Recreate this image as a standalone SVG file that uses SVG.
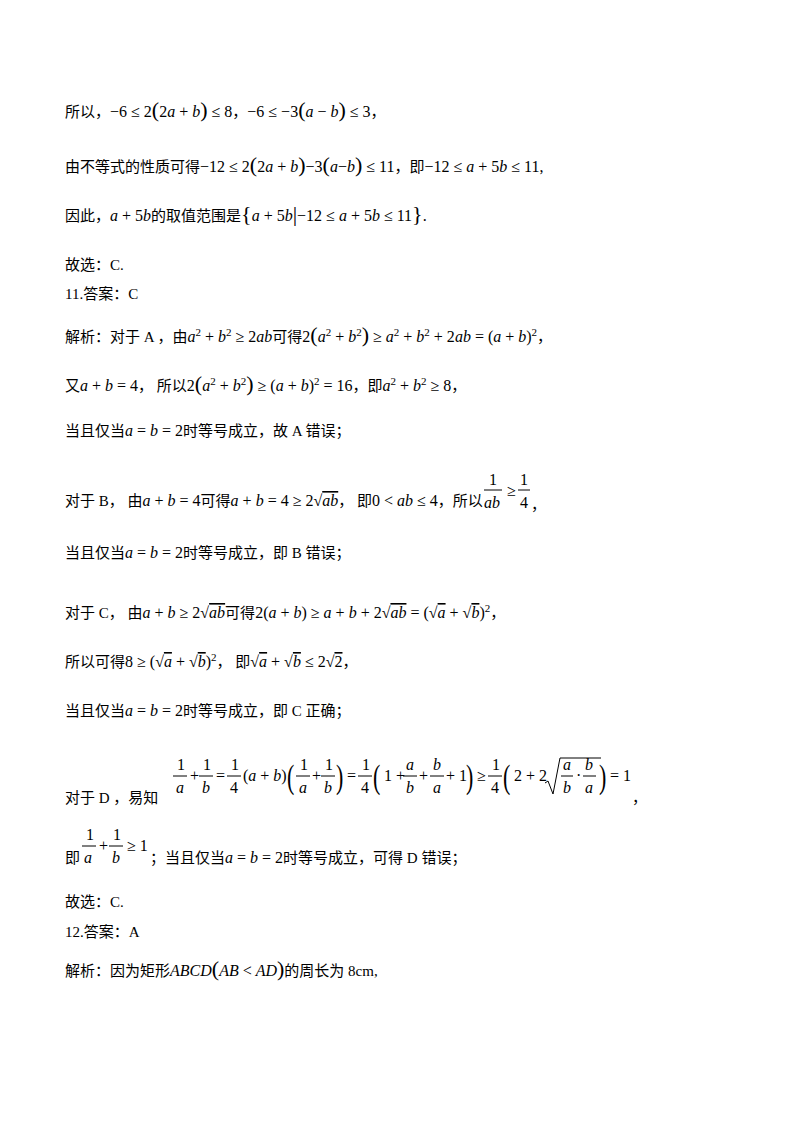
<svg xmlns="http://www.w3.org/2000/svg" width="800" height="1132" viewBox="0 0 800 1132">
<style>
text{font-family:"Liberation Serif","Noto Sans CJK SC",serif;font-size:15px;fill:#000}
.m{font-size:16px}
.i{font-style:italic;font-size:16px}
.n{font-size:16px}
.s{font-size:11px}
.big{font-size:22px}
.o{text-decoration:overline}
line,path{stroke:#000;stroke-width:1;fill:none}
</style>
<rect width="800" height="1132" fill="#fff"/>
<g id="l1">
<text x="65" y="117">所以，<tspan class="n">−6 ≤ 2</tspan><tspan class="big">(</tspan><tspan class="n">2</tspan><tspan class="i">a</tspan><tspan class="n"> + </tspan><tspan class="i">b</tspan><tspan class="big">)</tspan><tspan class="n"> ≤ 8</tspan>，<tspan class="n">−6 ≤ −3</tspan><tspan class="big">(</tspan><tspan class="i">a</tspan><tspan class="n"> − </tspan><tspan class="i">b</tspan><tspan class="big">)</tspan><tspan class="n"> ≤ 3</tspan>，</text>
</g>
<g id="l2">
<text x="65" y="172">由不等式的性质可得<tspan class="n">−12 ≤ 2</tspan><tspan class="big">(</tspan><tspan class="n">2</tspan><tspan class="i">a</tspan><tspan class="n"> + </tspan><tspan class="i">b</tspan><tspan class="big">)</tspan><tspan class="n">−3</tspan><tspan class="big">(</tspan><tspan class="i">a</tspan><tspan class="n">−</tspan><tspan class="i">b</tspan><tspan class="big">)</tspan><tspan class="n"> ≤ 11</tspan>，即<tspan class="n">−12 ≤ </tspan><tspan class="i">a</tspan><tspan class="n"> + 5</tspan><tspan class="i">b</tspan><tspan class="n"> ≤ 11,</tspan></text>
</g>
<g id="l3">
<text x="65" y="221">因此，<tspan class="i">a</tspan><tspan class="n"> + 5</tspan><tspan class="i">b</tspan>的取值范围是<tspan class="big">{</tspan><tspan class="i">a</tspan><tspan class="n"> + 5</tspan><tspan class="i">b</tspan><tspan class="big">|</tspan><tspan class="n">−12 ≤ </tspan><tspan class="i">a</tspan><tspan class="n"> + 5</tspan><tspan class="i">b</tspan><tspan class="n"> ≤ 11</tspan><tspan class="big">}</tspan><tspan class="n">.</tspan></text>
</g>
<g id="l4"><text x="65" y="270">故选：C.</text></g>
<g id="l5"><text x="65" y="299">11.答案：C</text></g>
<g id="l6">
<text x="65" y="342">解析：对于 A ，由<tspan class="i">a</tspan><tspan class="s" dy="-6">2</tspan><tspan class="n" dy="6"> + </tspan><tspan class="i">b</tspan><tspan class="s" dy="-6">2</tspan><tspan class="n" dy="6"> ≥ 2</tspan><tspan class="i">ab</tspan>可得<tspan class="n">2</tspan><tspan class="big">(</tspan><tspan class="i">a</tspan><tspan class="s" dy="-6">2</tspan><tspan class="n" dy="6"> + </tspan><tspan class="i">b</tspan><tspan class="s" dy="-6">2</tspan><tspan class="big" dy="6">)</tspan><tspan class="n"> ≥ </tspan><tspan class="i">a</tspan><tspan class="s" dy="-6">2</tspan><tspan class="n" dy="6"> + </tspan><tspan class="i">b</tspan><tspan class="s" dy="-6">2</tspan><tspan class="n" dy="6"> + 2</tspan><tspan class="i">ab</tspan><tspan class="n"> = (</tspan><tspan class="i">a</tspan><tspan class="n"> + </tspan><tspan class="i">b</tspan><tspan class="n">)</tspan><tspan class="s" dy="-6">2</tspan><tspan dy="6">，</tspan></text>
</g>
<g id="l7">
<text x="65" y="391">又<tspan class="i">a</tspan><tspan class="n"> + </tspan><tspan class="i">b</tspan><tspan class="n"> = 4</tspan>，  所以<tspan class="n">2</tspan><tspan class="big">(</tspan><tspan class="i">a</tspan><tspan class="s" dy="-6">2</tspan><tspan class="n" dy="6"> + </tspan><tspan class="i">b</tspan><tspan class="s" dy="-6">2</tspan><tspan class="big" dy="6">)</tspan><tspan class="n"> ≥ (</tspan><tspan class="i">a</tspan><tspan class="n"> + </tspan><tspan class="i">b</tspan><tspan class="n">)</tspan><tspan class="s" dy="-6">2</tspan><tspan class="n" dy="6"> = 16</tspan>，即<tspan class="i">a</tspan><tspan class="s" dy="-6">2</tspan><tspan class="n" dy="6"> + </tspan><tspan class="i">b</tspan><tspan class="s" dy="-6">2</tspan><tspan class="n" dy="6"> ≥ 8</tspan>，</text>
</g>
<g id="l8">
<text x="65" y="436">当且仅当<tspan class="i">a</tspan><tspan class="n"> = </tspan><tspan class="i">b</tspan><tspan class="n"> = 2</tspan>时等号成立，故 A 错误；</text>
</g>
<g id="l9">
<text x="65" y="506">对于 B，  由<tspan class="i">a</tspan><tspan class="n"> + </tspan><tspan class="i">b</tspan><tspan class="n"> = 4</tspan>可得<tspan class="i">a</tspan><tspan class="n"> + </tspan><tspan class="i">b</tspan><tspan class="n"> = 4 ≥ 2√</tspan><tspan class="i o">ab</tspan>，  即<tspan class="n">0 &lt; </tspan><tspan class="i">ab</tspan><tspan class="n"> ≤ 4</tspan>，所以</text>
<text class="m" x="489" y="485">1</text>
<line x1="484" y1="490" x2="502" y2="490"/>
<text class="i" x="484" y="508">ab</text>
<text class="m" x="507" y="496">≥</text>
<text class="m" x="520" y="485">1</text>
<line x1="518" y1="490" x2="530" y2="490"/>
<text class="m" x="520" y="508">4</text>
<text x="531" y="510">，</text>
</g>
<g id="l10">
<text x="65" y="558">当且仅当<tspan class="i">a</tspan><tspan class="n"> = </tspan><tspan class="i">b</tspan><tspan class="n"> = 2</tspan>时等号成立，即 B 错误；</text>
</g>
<g id="l11">
<text x="65" y="618">对于 C，  由<tspan class="i">a</tspan><tspan class="n"> + </tspan><tspan class="i">b</tspan><tspan class="n"> ≥ 2√</tspan><tspan class="i o">ab</tspan>可得<tspan class="n">2(</tspan><tspan class="i">a</tspan><tspan class="n"> + </tspan><tspan class="i">b</tspan><tspan class="n">) ≥ </tspan><tspan class="i">a</tspan><tspan class="n"> + </tspan><tspan class="i">b</tspan><tspan class="n"> + 2√</tspan><tspan class="i o">ab</tspan><tspan class="n"> = (√</tspan><tspan class="i o">a</tspan><tspan class="n"> + √</tspan><tspan class="i o">b</tspan><tspan class="n">)</tspan><tspan class="s" dy="-6">2</tspan><tspan dy="6">，</tspan></text>
</g>
<g id="l12">
<text x="65" y="667">所以可得<tspan class="n">8 ≥ (√</tspan><tspan class="i o">a</tspan><tspan class="n"> + √</tspan><tspan class="i o">b</tspan><tspan class="n">)</tspan><tspan class="s" dy="-6">2</tspan><tspan dy="6">，   即</tspan><tspan class="n">√</tspan><tspan class="i o">a</tspan><tspan class="n"> + √</tspan><tspan class="i o">b</tspan><tspan class="n"> ≤ 2√</tspan><tspan class="n o">2</tspan>，</text>
</g>
<g id="l13">
<text x="65" y="716">当且仅当<tspan class="i">a</tspan><tspan class="n"> = </tspan><tspan class="i">b</tspan><tspan class="n"> = 2</tspan>时等号成立，即 C 正确；</text>
</g>
<g id="l14">
<text x="65" y="803">对于 D ，易知</text>
<text class="m" x="177" y="770">1</text><line x1="173" y1="776" x2="187" y2="776"/><text class="i" x="176" y="793">a</text>
<text class="m" x="190" y="781">+</text>
<text class="m" x="203" y="770">1</text><line x1="199" y1="776" x2="213" y2="776"/><text class="i" x="202" y="793">b</text>
<text class="m" x="216" y="781">=</text>
<text class="m" x="231" y="770">1</text><line x1="227" y1="776" x2="241" y2="776"/><text class="m" x="230" y="793">4</text>
<text class="m" x="243" y="781">(<tspan class="i">a</tspan> + <tspan class="i">b</tspan>)</text>
<text class="big" x="287" y="788" transform="translate(287 788) scale(1 1.5) translate(-287 -788)">(</text>
<text class="m" x="300" y="770">1</text><line x1="296" y1="776" x2="310" y2="776"/><text class="i" x="299" y="793">a</text>
<text class="m" x="312" y="781">+</text>
<text class="m" x="325" y="770">1</text><line x1="321" y1="776" x2="335" y2="776"/><text class="i" x="324" y="793">b</text>
<text class="big" x="336" y="788" transform="translate(336 788) scale(1 1.5) translate(-336 -788)">)</text>
<text class="m" x="347" y="781">=</text>
<text class="m" x="362" y="770">1</text><line x1="358" y1="776" x2="372" y2="776"/><text class="m" x="361" y="793">4</text>
<text class="big" x="373" y="788" transform="translate(373 788) scale(1 1.5) translate(-373 -788)">(</text>
<text class="m" x="384" y="781">1 +</text>
<text class="i" x="406" y="770">a</text><line x1="403" y1="776" x2="417" y2="776"/><text class="i" x="406" y="793">b</text>
<text class="m" x="419" y="781">+</text>
<text class="i" x="433" y="770">b</text><line x1="430" y1="776" x2="444" y2="776"/><text class="i" x="433" y="793">a</text>
<text class="m" x="446" y="781">+ 1</text>
<text class="big" x="466" y="788" transform="translate(466 788) scale(1 1.5) translate(-466 -788)">)</text>
<text class="m" x="477" y="781">≥</text>
<text class="m" x="492" y="770">1</text><line x1="488" y1="776" x2="502" y2="776"/><text class="m" x="491" y="793">4</text>
<text class="big" x="503" y="788" transform="translate(503 788) scale(1 1.5) translate(-503 -788)">(</text>
<text class="m" x="514" y="781">2 + 2</text>
<path d="M545 783 l3 -2 l5 13 l7 -36 h41"/>
<text class="i" x="563" y="770">a</text><line x1="561" y1="776" x2="573" y2="776"/><text class="i" x="563" y="793">b</text>
<text class="m" x="576" y="781">·</text>
<text class="i" x="585" y="770">b</text><line x1="583" y1="776" x2="596" y2="776"/><text class="i" x="585" y="793">a</text>
<text class="big" x="599" y="788" transform="translate(599 788) scale(1 1.5) translate(-599 -788)">)</text>
<text class="m" x="610" y="781">= 1</text>
<text x="632" y="803">，</text>
</g>
<g id="l15">
<text x="65" y="863">即</text>
<text class="m" x="86" y="840">1</text><line x1="82" y1="846" x2="96" y2="846"/><text class="i" x="84" y="863">a</text>
<text class="m" x="99" y="851">+</text>
<text class="m" x="113" y="840">1</text><line x1="109" y1="846" x2="123" y2="846"/><text class="i" x="112" y="863">b</text>
<text class="m" x="127" y="851">≥ 1</text>
<text x="150" y="863">；当且仅当<tspan class="i">a</tspan><tspan class="n"> = </tspan><tspan class="i">b</tspan><tspan class="n"> = 2</tspan>时等号成立，可得 D 错误；</text>
</g>
<g id="l16"><text x="65" y="907">故选：C.</text></g>
<g id="l17"><text x="65" y="937">12.答案：A</text></g>
<g id="l18">
<text x="65" y="976">解析：因为矩形<tspan class="i">ABCD</tspan><tspan class="big">(</tspan><tspan class="i">AB</tspan><tspan class="n"> &lt; </tspan><tspan class="i">AD</tspan><tspan class="big">)</tspan>的周长为 8cm,</text>
</g>
</svg>
